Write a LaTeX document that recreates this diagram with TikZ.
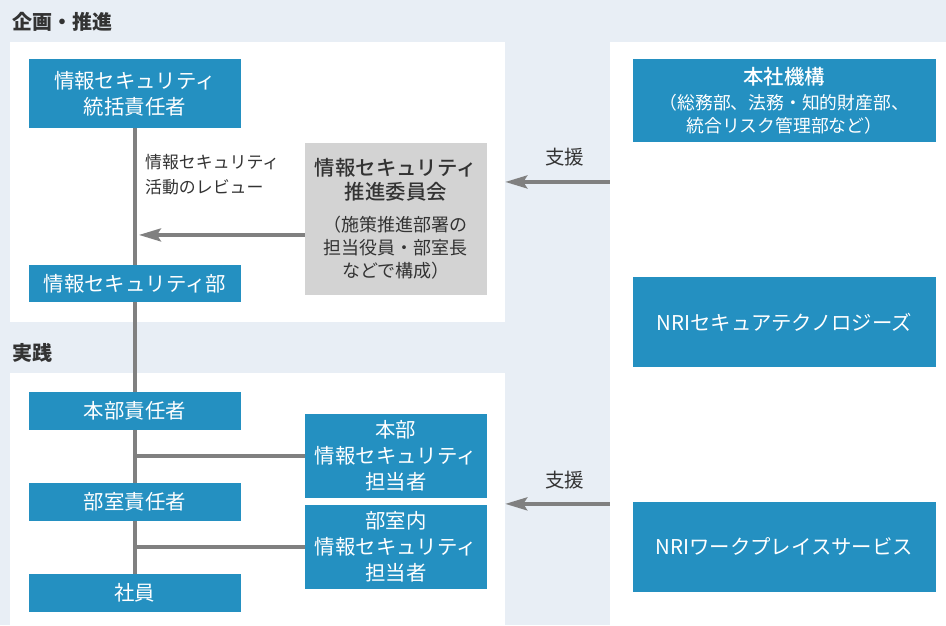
\documentclass[tikz,border=0pt]{standalone}
\usepackage{fontspec}
\setmainfont{Noto Sans CJK JP}
\newfontfamily\mediumjp{Noto Sans CJK JP Medium}
\newcommand\headfont{\mediumjp\fontsize{20.4}{25}\selectfont}
\usetikzlibrary{arrows.meta}

\definecolor{bgblue}{HTML}{E8EEF5}
\definecolor{secblue}{HTML}{2490C1}
\definecolor{boxgray}{HTML}{D3D3D3}
\definecolor{linegray}{HTML}{808080}
\definecolor{textdark}{HTML}{333333}

\begin{document}
\begin{tikzpicture}[x=1pt, y=-1pt,
  panel/.style={fill=white, inner sep=0pt, anchor=north west},
  title/.style={font=\bfseries\fontsize{20}{24}\selectfont, text=textdark,
    anchor=west, inner sep=0pt},
  box/.style={fill=secblue, text=white, inner sep=0pt, align=center,
    font=\fontsize{20.4}{26}\selectfont},
  lbox/.style={box, minimum width=212pt, minimum height=38pt},
  rbox/.style={box, minimum width=182pt, minimum height=84pt},
  gbox/.style={box, minimum width=303pt},
  note/.style={font=\fontsize{16.9}{25}\selectfont, text=textdark,
    align=left, anchor=west, inner sep=0pt},
  line/.style={draw=linegray, line width=3.5pt},
  arr/.style={line, -{Stealth[length=22pt, width=13pt, inset=4pt]}},
]

% Canvas and panels
\fill[bgblue] (0,0) rectangle (946,625);
\node[panel, minimum width=495pt, minimum height=280pt] (plan) at (10,42) {};
\node[panel, minimum width=495pt, minimum height=252pt] (practice) at (10,373) {};
\node[panel, minimum width=336pt, minimum height=583pt] (group) at (610,42) {};

% Section titles
\node[title] (plantitle) at (12,22) {企画・推進};
\node[title] (practicetitle) at (12,353) {実践};

% Planning side
\node[lbox, minimum height=69pt] (chief) at (135,93.5)
    {情報セキュリティ\\統括責任者};
\node[lbox, minimum height=37pt] (secdept) at (135,283.5) {情報セキュリティ部};
\node[fill=boxgray, minimum width=182pt, minimum height=152pt, inner sep=0pt,
    align=center, text=textdark, font=\fontsize{18}{23}\selectfont]
    (committee) at (396,219)
    {{\headfont 情報セキュリティ}\\[1pt]{\headfont 推進委員会}\\[9pt]
     （施策推進部署の\\担当役員・部室長\\などで構成）};
\node[note] (review) at (145,174.5) {情報セキュリティ\\活動のレビュー};

% Practice side
\node[lbox] (hqlead) at (135,411) {本部責任者};
\node[lbox] (deptlead) at (135,502) {部室責任者};
\node[lbox] (staff) at (135,593) {社員};
\node[rbox] (hqrep) at (396,456) {本部\\情報セキュリティ\\担当者};
\node[rbox] (deptrep) at (396,547) {部室内\\情報セキュリティ\\担当者};

% Group companies
\node[gbox, minimum height=83pt, font=\fontsize{17.8}{23}\selectfont] (corp)
    at (784.5,100.5)
    {{\headfont 本社機構}\\[2pt]（総務部、法務・知的財産部、\\統合リスク管理部など）};
\node[gbox, minimum height=90pt] (nrisecure) at (784.5,322) {NRIセキュアテクノロジーズ};
\node[gbox, minimum height=90pt] (nriwork) at (784.5,547) {NRIワークプレイスサービス};

% Reporting line
\draw[line] (chief.south) -- (secdept.north);
\draw[line] (secdept.south) -- (hqlead.north);
\draw[line] (hqlead.south) -- (deptlead.north);
\draw[line] (deptlead.south) -- (staff.north);
\draw[line] (hqrep.west) -- (hqrep.west -| hqlead.south);
\draw[line] (deptrep.west) -- (deptrep.west -| deptlead.south);

% Review arrow
\coordinate (rev) at ([yshift=-16pt]committee.west);
\draw[arr, shorten >=4pt] (rev) -- (rev -| chief.south);

% Support arrows
\coordinate (suptop) at (610,182);
\coordinate (supbot) at (610,504);
\draw[arr] (suptop) -- (suptop -| plan.east);
\draw[arr] (supbot) -- (supbot -| practice.east);
\node[note, anchor=center, font=\fontsize{19.5}{24}\selectfont] (suptoplabel)
    at (565,157) {支援};
\node[note, anchor=center, font=\fontsize{19.5}{24}\selectfont] (supbotlabel)
    at (565,480) {支援};

\end{tikzpicture}
\end{document}
